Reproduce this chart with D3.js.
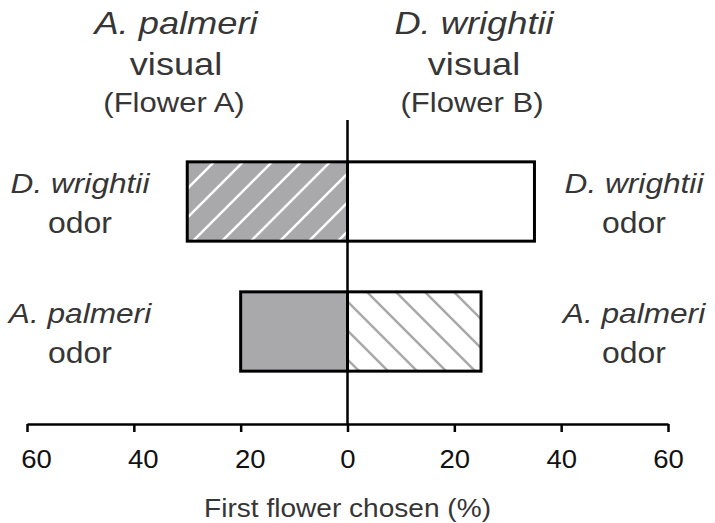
<!DOCTYPE html>
<html>
<head>
<meta charset="utf-8">
<script src="https://cdn.jsdelivr.net/npm/d3@7"></script>
<style>
  body { margin: 0; background: #fff; }
  svg { display: block; }
  text { font-family: "Liberation Sans", Arial, sans-serif; fill: #363636; }
</style>
</head>
<body>
<svg class="chart" width="715" height="523"></svg>
<script>
// odor rows, top to bottom
const odors = ["D. wrightii", "A. palmeri"];
// Flower A (A. palmeri visual) drawn to the left, Flower B (D. wrightii visual) to the right
const flowerA = [30, 20];
const flowerB = [35, 25];
const tickValues = [-60, -40, -20, 0, 20, 40, 60];

const svg = d3.select("svg.chart");

const x = d3.scaleLinear()
  .domain([-60, 60])
  .range([27, 668]);

const y = d3.scaleBand()
  .domain(odors)
  .range([136.5, 396.5])
  .paddingInner(0.39)
  .paddingOuter(0.195);

const axisY = 424;

// hatch patterns
const defs = svg.append("defs");
const hatchA = defs.append("pattern")
  .attr("id", "hatchA")
  .attr("patternUnits", "userSpaceOnUse")
  .attr("width", 29).attr("height", 29)
  .attr("patternTransform", "translate(-1,0)");
hatchA.append("rect").attr("width", 29).attr("height", 29).attr("fill", "#a9a9ac");
hatchA.append("path")
  .attr("d", "M-2,31 L31,-2 M-14,14 L14,-14 M15,43 L43,15")
  .attr("stroke", "#fff").attr("stroke-width", 2.5);

const hatchB = defs.append("pattern")
  .attr("id", "hatchB")
  .attr("patternUnits", "userSpaceOnUse")
  .attr("width", 29).attr("height", 29)
  .attr("patternTransform", "translate(17,0)");
hatchB.append("rect").attr("width", 29).attr("height", 29).attr("fill", "#fff");
hatchB.append("path")
  .attr("d", "M-2,-2 L31,31 M-14,15 L14,43 M15,-14 L43,14")
  .attr("stroke", "#a9a9ac").attr("stroke-width", 2.5);

// left bars (Flower A)
svg.append("g")
  .selectAll("rect")
  .data(odors)
  .enter().append("rect")
  .attr("x", (d, i) => x(-flowerA[i]))
  .attr("y", d => y(d))
  .attr("width", (d, i) => x(0) - x(-flowerA[i]))
  .attr("height", y.bandwidth())
  .attr("fill", (d, i) => i === 0 ? "url(#hatchA)" : "#a9a9ac")
  .attr("stroke", "#000")
  .attr("stroke-width", 3);

// right bars (Flower B)
svg.append("g")
  .selectAll("rect")
  .data(odors)
  .enter().append("rect")
  .attr("x", x(0))
  .attr("y", d => y(d))
  .attr("width", (d, i) => x(flowerB[i]) - x(0))
  .attr("height", y.bandwidth())
  .attr("fill", (d, i) => i === 0 ? "#fff" : "url(#hatchB)")
  .attr("stroke", "#000")
  .attr("stroke-width", 3);

// center line
svg.append("line")
  .attr("x1", x(0)).attr("x2", x(0))
  .attr("y1", 120).attr("y2", axisY)
  .attr("stroke", "#000").attr("stroke-width", 2.5);

// x axis
const xAxis = svg.append("g")
  .attr("transform", "translate(0," + axisY + ")")
  .call(d3.axisBottom(x)
    .tickValues(tickValues)
    .tickSize(8)
    .tickSizeOuter(0)
    .tickPadding(18)
    .tickFormat(d => Math.abs(d)));
xAxis.select(".domain").attr("stroke", "#000").attr("stroke-width", 2.5);
xAxis.selectAll(".tick line").attr("stroke", "#000").attr("stroke-width", 2.5);
// left-hand labels sit a little right of their ticks in the original
xAxis.selectAll(".tick text")
  .attr("font-size", 25)
  .style("fill", "#111")
  .attr("transform", d => "translate(" + (d < 0 ? 9 : 0) + ",0) scale(1.1,1)");

// text helper: horizontally stretched like the original figure
function label(cx, cy, str, size, italic, sx) {
  svg.append("text")
    .attr("transform", "translate(" + cx + "," + cy + ") scale(" + sx + ",1)")
    .attr("text-anchor", "middle")
    .attr("font-size", size)
    .attr("font-style", italic ? "italic" : "normal")
    .text(str);
}

label(x(0), 517, "First flower chosen (%)", 26, false, 1.08);

// column headers
const headers = [
  { sp: "A. palmeri", fl: "(Flower A)", cx: 176 },
  { sp: "D. wrightii", fl: "(Flower B)", cx: 474 }
];
headers.forEach(h => {
  label(h.cx, 34, h.sp, 31, true, 1.17);
  label(h.cx, 75, "visual", 32, false, 1.13);
  label(h.cx - 2, 112, h.fl, 27, false, 1.15);
});

// row labels on both sides
[80, 634].forEach(cx => {
  odors.forEach(o => {
    const cy = y(o) + y.bandwidth() / 2;
    label(cx, cy - 9, o, 28, true, 1.13);
    label(cx, cy + 31, "odor", 29, false, 1.1);
  });
});
</script>
</body>
</html>
